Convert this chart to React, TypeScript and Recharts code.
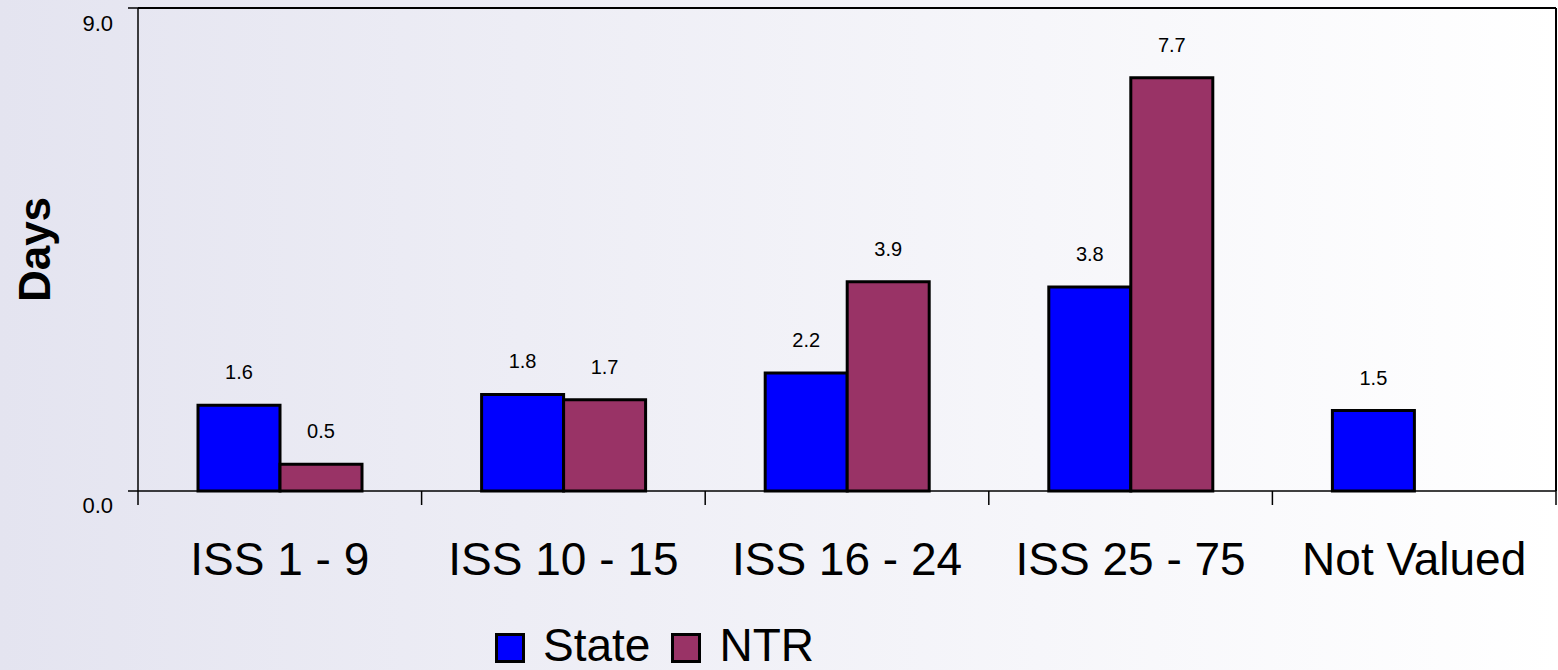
import React from 'react';
import { ComposedChart, Bar, Line, XAxis, YAxis, LabelList, ReferenceLine } from 'recharts';

const categories = ['ISS 1 - 9', 'ISS 10 - 15', 'ISS 16 - 24', 'ISS 25 - 75', 'Not Valued'];
const stateValues = [1.6, 1.8, 2.2, 3.8, 1.5];
const ntrValues: (number | null)[] = [0.5, 1.7, 3.9, 7.7, null];
const yTicks = [0, 9];

const seriesNames = ['State', 'NTR'];
const seriesColors = ['#0000FF', '#993366'];

const FONT = '"Liberation Sans", Arial, sans-serif';

// pos = slot centre on a hidden 0..5 numeric axis, used for the right frame edge
const chartData = categories.map((name, i) => ({
  name,
  pos: i + 0.5,
  state: stateValues[i],
  ntr: ntrValues[i],
}));

const fmt = (v: any) => (v === null || v === undefined ? '' : Number(v).toFixed(1));

const YTick = (props: any) => {
  const { x, y, payload } = props;
  return (
    <text x={x - 15} y={y + 22} textAnchor="end" fontSize={22} fontFamily={FONT} fill="#000">
      {Number(payload.value).toFixed(1)}
    </text>
  );
};

// category label plus the tick marks at the slot boundaries (Excel style)
const XTick = (props: any) => {
  const { x, y, payload, index, width } = props;
  const half = (width || 1418) / categories.length / 2;
  const last = index === categories.length - 1;
  return (
    <g>
      <line x1={x - half} y1={y} x2={x - half} y2={y + 14} stroke="#000" strokeWidth={1.5} />
      {last && <line x1={x + half} y1={y} x2={x + half} y2={y + 14} stroke="#000" strokeWidth={1.5} />}
      <text x={x} y={y + 84} textAnchor="middle" fontSize={46} fontFamily={FONT} fill="#000">
        {payload.value}
      </text>
    </g>
  );
};

const DaysLabel = (props: any) => {
  const { viewBox } = props;
  const cx = viewBox.x + 50;
  const cy = viewBox.y + viewBox.height / 2;
  return (
    <text
      x={cx}
      y={cy}
      textAnchor="middle"
      fontSize={44}
      fontWeight="bold"
      fontFamily={FONT}
      fill="#000"
      transform={`rotate(-90, ${cx}, ${cy})`}
    >
      Days
    </text>
  );
};

export default function App() {
  return (
    <div
      style={{
        position: 'absolute',
        left: 0,
        top: 0,
        width: 1558,
        height: 670,
        background: 'linear-gradient(to right, #E4E4F0, #FFFFFF)',
        fontFamily: FONT,
        overflow: 'hidden',
      }}
    >
      <ComposedChart
        width={1558}
        height={670}
        data={chartData}
        margin={{ top: 8, right: 2, bottom: 0, left: 0 }}
        barGap={0}
      >
        <XAxis xAxisId="pos" type="number" dataKey="pos" domain={[0, 5]} hide allowDataOverflow />
        <XAxis
          xAxisId="cat"
          dataKey="name"
          height={179}
          axisLine={false}
          tickLine={false}
          tickSize={0}
          tickMargin={0}
          tick={<XTick />}
          interval={0}
        />
        <YAxis
          yAxisId="left"
          domain={[0, 9]}
          ticks={yTicks}
          width={138}
          tickSize={10}
          tickMargin={0}
          tick={<YTick />}
          axisLine={{ stroke: '#000', strokeWidth: 1.5 }}
          tickLine={{ stroke: '#000', strokeWidth: 1.5 }}
          label={<DaysLabel />}
        />
        {/* invisible series so the hidden numeric axis gets a scale */}
        <Line
          xAxisId="pos"
          yAxisId="left"
          dataKey="state"
          stroke="none"
          dot={false}
          activeDot={false}
          legendType="none"
          isAnimationActive={false}
        />
        <Bar
          xAxisId="cat"
          yAxisId="left"
          dataKey="state"
          name={seriesNames[0]}
          fill={seriesColors[0]}
          stroke="#000"
          strokeWidth={3}
          barSize={82}
          isAnimationActive={false}
        >
          <LabelList dataKey="state" position="top" offset={26} fontSize={20} fill="#000" fontFamily={FONT} formatter={fmt} />
        </Bar>
        <Bar
          xAxisId="cat"
          yAxisId="left"
          dataKey="ntr"
          name={seriesNames[1]}
          fill={seriesColors[1]}
          stroke="#000"
          strokeWidth={3}
          barSize={82}
          isAnimationActive={false}
        >
          <LabelList dataKey="ntr" position="top" offset={26} fontSize={20} fill="#000" fontFamily={FONT} formatter={fmt} />
        </Bar>
        {/* plot frame: bottom axis line, top and right edges */}
        <ReferenceLine xAxisId="pos" yAxisId="left" y={0} stroke="#000" strokeWidth={1.5} ifOverflow="visible" />
        <ReferenceLine xAxisId="pos" yAxisId="left" y={9} stroke="#000" strokeWidth={2} ifOverflow="visible" />
        <ReferenceLine xAxisId="pos" yAxisId="left" x={5} stroke="#000" strokeWidth={2} ifOverflow="visible" />
      </ComposedChart>

      {/* legend */}
      <div
        style={{
          position: 'absolute',
          left: 495,
          top: 622,
          display: 'flex',
          alignItems: 'center',
          fontSize: 46,
          lineHeight: '46px',
          color: '#000',
        }}
      >
        {seriesNames.map((s, i) => (
          <div key={s} style={{ display: 'flex', alignItems: 'center', marginRight: i === 0 ? 21 : 0 }}>
            <span
              style={{
                display: 'inline-block',
                width: 24,
                height: 24,
                background: seriesColors[i],
                border: '3px solid #000',
                marginRight: 18,
                marginTop: 6,
              }}
            />
            <span>{s}</span>
          </div>
        ))}
      </div>
    </div>
  );
}
